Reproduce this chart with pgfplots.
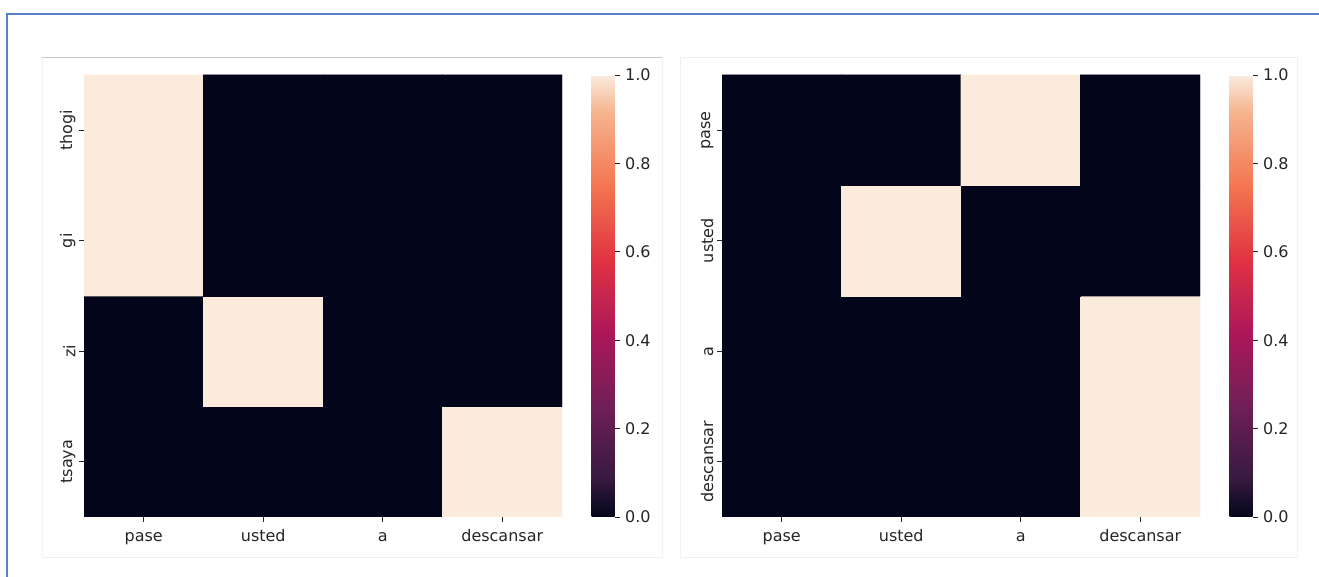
\documentclass[border=0pt]{standalone}
\usepackage{fontspec}
\setmainfont{DejaVu Sans}
\usepackage{pgfplots}
\pgfplotsset{compat=1.18}
\definecolor{frameblue}{HTML}{5A80C6}
\definecolor{txt}{HTML}{262626}
\pgfplotsset{
  colormap={rocket}{rgb255(0)=(3,5,26) rgb255(83)=(53,25,62) rgb255(250)=(112,31,87) rgb255(417)=(173,23,89) rgb255(583)=(225,51,66) rgb255(750)=(243,118,81) rgb255(917)=(246,180,143) rgb255(1000)=(250,235,221)},
  hm/.style={
    scale only axis, width=478pt, height=442pt, anchor=south west,
    xmin=-0.5, xmax=3.5, ymin=-0.5, ymax=3.5,
    axis line style={draw=none},
    tick align=outside, xtick pos=bottom, ytick pos=left,
    major tick length=5pt, tick style={txt, line width=0.8pt},
    xtick={0,1,2,3}, ytick={0,1,2,3},
    xticklabels={pase,usted,a,descansar},
    ticklabel style={font=\fontsize{16}{19}\selectfont, text=txt},
    xticklabel style={yshift=-4pt, text height=12pt, text depth=4pt},
    yticklabel style={rotate=90, anchor=south},
    point meta min=0, point meta max=1,
    colormap name=rocket,
    colorbar,
    colorbar/width=23pt,
    colorbar style={
      at={(parent axis.north east)}, anchor=north west, xshift=21pt,
      scale only axis, width=23pt, height=442pt,
      axis line style={draw=none},
      ytick={0,0.2,0.4,0.6,0.8,1},
      ytick pos=right, yticklabel pos=right, tick align=outside,
      major tick length=5pt, tick style={txt, line width=0.8pt},
      yticklabel style={font=\fontsize{16}{19}\selectfont, text=txt, xshift=2pt,
        /pgf/number format/.cd, fixed, fixed zerofill, precision=1, assume math mode=true},
    },
  },
  cells/.style={matrix plot*, shader=faceted, faceted color=mapped color, line width=0.6pt, mesh/cols=4, point meta=explicit},
}
\begin{document}
\begin{tikzpicture}
\useasboundingbox (0,0) rectangle (1319pt,577pt);
\fill[white] (0,0) rectangle (1319pt,577pt);
% screenshot frame
\draw[frameblue, line width=1.2pt] (7pt,0) -- (7pt,563pt) -- (1319pt,563pt);
% panel boxes
\draw[black!6, line width=0.8pt] (42pt,20pt) rectangle (662pt,520pt);
\draw[black!22, line width=0.8pt] (42pt,520pt) -- (662pt,520pt);
\draw[black!6, line width=0.8pt] (680pt,20pt) rectangle (1297pt,520pt);

\begin{axis}[hm, at={(84pt,60pt)},
  yticklabels={tsaya,zi,gi,thogi}]
\addplot[cells] table[meta=v] {
x y v
0 0 0
1 0 0
2 0 0
3 0 1
0 1 0
1 1 1
2 1 0
3 1 0
0 2 1
1 2 0
2 2 0
3 2 0
0 3 1
1 3 0
2 3 0
3 3 0
};
\end{axis}

\begin{axis}[hm, at={(722pt,60pt)},
  yticklabels={descansar,a,usted,pase}]
\addplot[cells] table[meta=v] {
x y v
0 0 0
1 0 0
2 0 0
3 0 1
0 1 0
1 1 0
2 1 0
3 1 1
0 2 0
1 2 1
2 2 0
3 2 0
0 3 0
1 3 0
2 3 1
3 3 0
};
\end{axis}
\end{tikzpicture}
\end{document}
